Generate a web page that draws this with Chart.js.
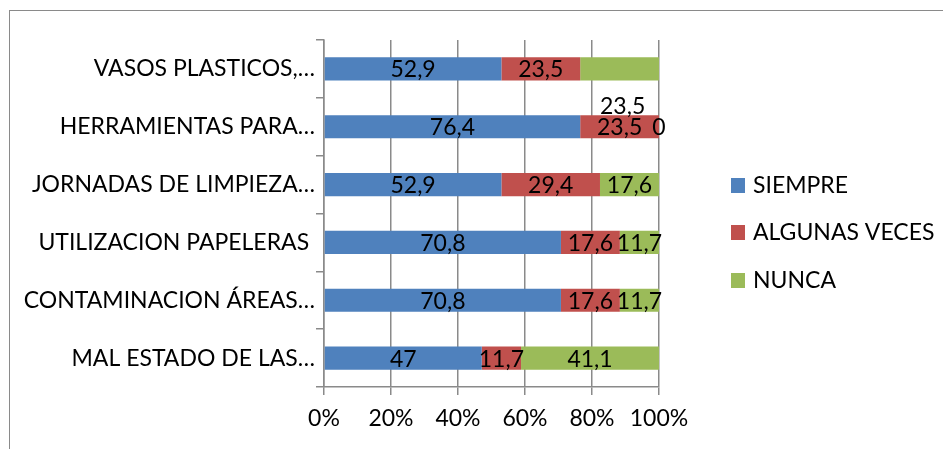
<!DOCTYPE html>
<html>
<head>
<meta charset="utf-8">
<script src="https://cdn.jsdelivr.net/npm/chart.js@4.4.1/dist/chart.umd.min.js"></script>
<style>
  html, body { margin: 0; padding: 0; background: #fff; }
  #wrap { position: relative; width: 943px; height: 449px; overflow: hidden; }
  #frame { position: absolute; left: 9px; top: 10px; width: 1000px; height: 500px; border: 1.5px solid #8a8a8a; }
  #myChart { position: absolute; left: 0; top: 0; }
</style>
</head>
<body>
<div id="wrap">
  <div id="frame"></div>
  <canvas id="myChart" width="943" height="449"></canvas>
</div>
<script>
var categories = [
    'VASOS PLASTICOS,…',
    'HERRAMIENTAS PARA…',
    'JORNADAS DE LIMPIEZA…',
    'UTILIZACION PAPELERAS ',
    'CONTAMINACION ÁREAS…',
    'MAL ESTADO DE LAS…'
];
var siempre = [52.9, 76.4, 52.9, 70.8, 70.8, 47];
var algunasVeces = [23.5, 23.5, 29.4, 17.6, 17.6, 11.7];
var nunca = [23.5, 0, 17.6, 11.7, 11.7, 41.1];
var xTicks = [0, 20, 40, 60, 80, 100];

var FONT = 'Lato';
var FONT_SIZE = 23;

// 100% stacked: each bar scaled to its own total
function toPercent(series, all) {
    return series.map(function (v, i) {
        var total = 0;
        all.forEach(function (s) { total += s[i]; });
        return v / total * 100;
    });
}
var allSeries = [siempre, algunasVeces, nunca];

function makeSet(label, values, color) {
    return {
        label: label,
        data: toPercent(values, allSeries),
        raw: values,
        backgroundColor: color,
        borderWidth: 0,
        barPercentage: 0.4,
        categoryPercentage: 1
    };
}

// Excel put one label out of place (VASOS / NUNCA)
var labelNudge = { dataset: 2, index: 0, dx: 3, dy: 37 };

var valueLabels = {
    id: 'valueLabels',
    afterDatasetsDraw: function (chart) {
        var ctx = chart.ctx;
        ctx.save();
        ctx.font = FONT_SIZE + 'px ' + FONT;
        ctx.fillStyle = '#000';
        ctx.textAlign = 'center';
        ctx.textBaseline = 'middle';
        chart.data.datasets.forEach(function (ds, di) {
            var meta = chart.getDatasetMeta(di);
            meta.data.forEach(function (bar, i) {
                var x = (bar.x + bar.base) / 2;
                var y = bar.y + 1;
                if (di === labelNudge.dataset && i === labelNudge.index) {
                    x += labelNudge.dx;
                    y += labelNudge.dy;
                }
                ctx.fillText(String(ds.raw[i]).replace('.', ','), x, y);
            });
        });
        ctx.restore();
    }
};

var sideLegend = {
    id: 'sideLegend',
    afterDraw: function (chart) {
        var ctx = chart.ctx;
        var rows = [185, 232, 280];
        ctx.save();
        ctx.font = FONT_SIZE + 'px ' + FONT;
        ctx.textBaseline = 'middle';
        ctx.textAlign = 'left';
        chart.data.datasets.forEach(function (ds, i) {
            ctx.fillStyle = ds.backgroundColor;
            ctx.fillRect(731, rows[i] - 7, 14, 15);
            ctx.fillStyle = '#000';
            ctx.fillText(ds.label, 753, rows[i] + 1);
        });
        ctx.restore();
    }
};

var ctx = document.getElementById('myChart').getContext('2d');
var myChart = new Chart(ctx, {
    type: 'bar',
    data: {
        labels: categories,
        datasets: [
            makeSet('SIEMPRE', siempre, '#4f81bd'),
            makeSet('ALGUNAS VECES', algunasVeces, '#c0504d'),
            makeSet('NUNCA', nunca, '#9bbb59')
        ]
    },
    options: {
        indexAxis: 'y',
        responsive: false,
        animation: false,
        layout: { padding: { left: 0, top: 40, right: 284, bottom: 0 } },
        plugins: {
            legend: { display: false },
            tooltip: { enabled: false }
        },
        scales: {
            x: {
                stacked: true,
                min: 0,
                max: 100,
                afterBuildTicks: function (scale) {
                    scale.ticks = xTicks.map(function (v) { return { value: v }; });
                },
                afterFit: function (scale) { scale.height = 62; },
                grid: { color: '#8a8a8a', lineWidth: 1.5, tickLength: 8 },
                border: { color: '#8a8a8a', width: 1.5 },
                ticks: {
                    color: '#000',
                    padding: 10,
                    maxRotation: 0,
                    font: { family: FONT, size: FONT_SIZE },
                    callback: function (v) { return v + '%'; }
                }
            },
            y: {
                stacked: true,
                afterFit: function (scale) { scale.width = 324; },
                grid: { drawOnChartArea: false, offset: true, color: '#8a8a8a', lineWidth: 1.5, tickLength: 8 },
                border: { color: '#8a8a8a', width: 1.5 },
                ticks: {
                    color: '#000',
                    padding: 1,
                    font: { family: FONT, size: FONT_SIZE }
                }
            }
        }
    },
    plugins: [valueLabels, sideLegend]
});
</script>
</body>
</html>
